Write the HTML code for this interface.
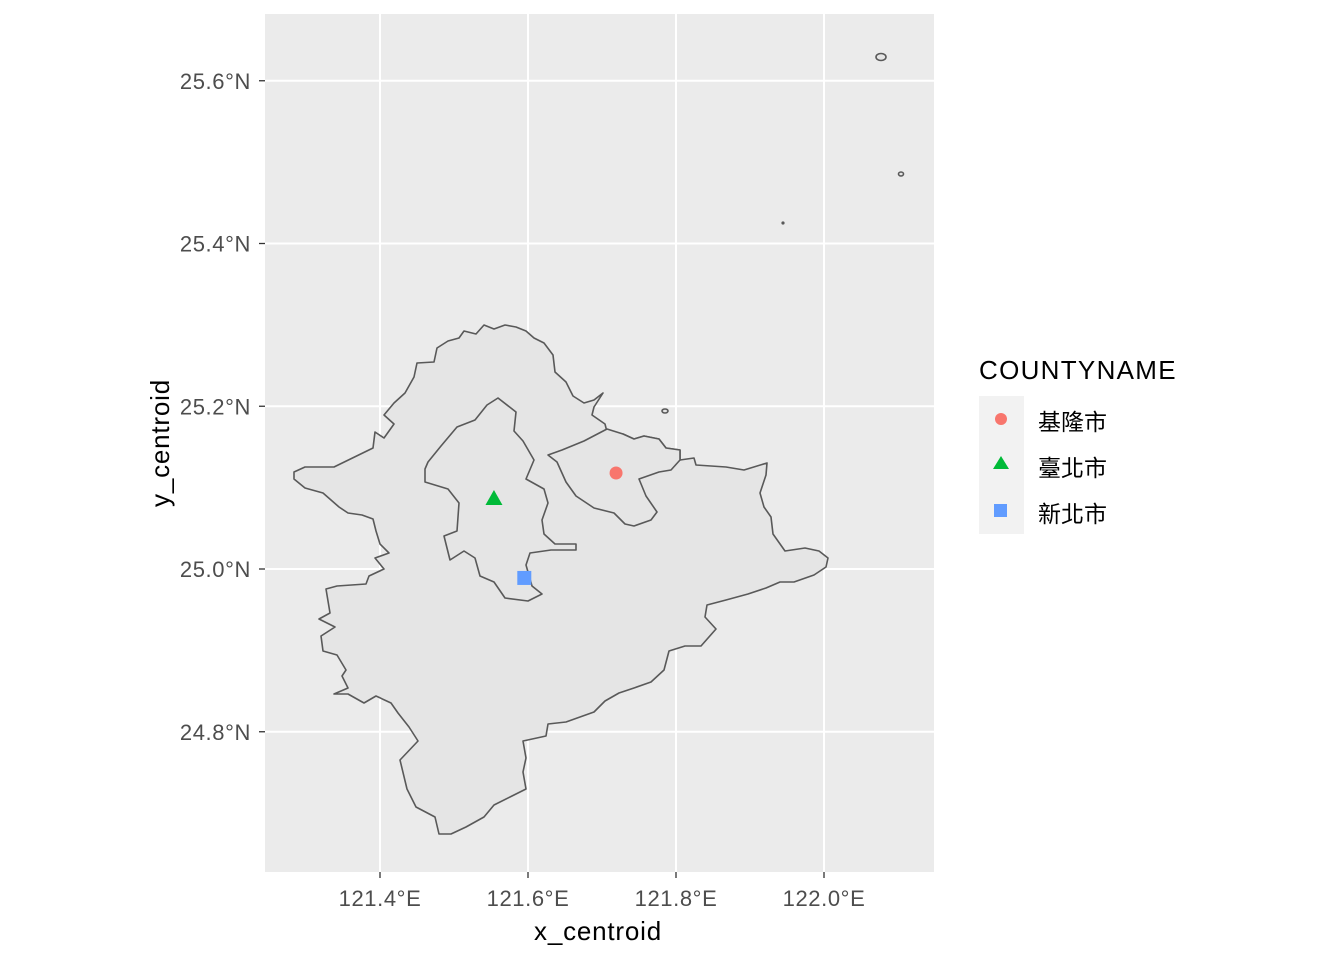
<!DOCTYPE html>
<html><head><meta charset="utf-8"><style>
body{margin:0;background:#fff;}
svg text{font-family:"Liberation Sans","Noto Sans CJK TC",sans-serif;}
</style></head><body>
<svg id="chart" width="1344" height="960" viewBox="0 0 1344 960" xmlns="http://www.w3.org/2000/svg">
<rect x="265" y="14" width="669" height="858" fill="#EBEBEB"/>
<g id="grid"></g>
<g fill="#E5E5E5" stroke="#595959" stroke-width="1.6" stroke-linejoin="round">
<path d="M294,472 L305,467 L334,467 L373,448 L375,432 L384,438 L394,424 L384,415 L394,403 L405,393 L414,377 L417,363 L434,362 L437,348 L448,341 L459,338 L464,331 L476,334 L484,325 L494,329 L505,325 L516,327 L526,331 L534,338 L544,343 L553,355 L555,372 L566,382 L573,396 L584,403 L594,400 L603,393 L594,407 L592,415 L605,424 L607,432 L623,434 L634,439 L644,436 L659,439 L666,448 L680,450 L680,460 L694,458 L696,465 L726,467 L744,470 L767,463 L766,475 L760,493 L764,507 L771,517 L773,534 L785,551 L805,548 L819,551 L828,558 L826,567 L814,575 L794,582 L780,582 L766,588 L748,594 L726,600 L707,605 L705,617 L716,629 L701,646 L685,646 L669,651 L664,670 L651,682 L634,688 L619,693 L605,701 L594,712 L566,722 L548,724 L546,736 L523,741 L526,758 L523,772 L526,789 L512,796 L494,805 L484,817 L466,827 L451,834 L439,834 L435,817 L416,807 L407,789 L400,760 L418,741 L409,727 L398,713 L391,703 L376,696 L364,703 L348,694 L334,694 L348,688 L342,676 L346,670 L337,655 L323,651 L321,636 L335,627 L319,619 L330,613 L326,589 L337,586 L366,584 L369,576 L384,569 L375,558 L389,553 L380,544 L376,531 L373,519 L362,515 L348,513 L339,507 L323,493 L305,488 L294,479 Z"/>
<path d="M498,398 L516,412 L514,431 L523,441 L534,460 L526,479 L544,489 L548,503 L542,520 L544,534 L555,544 L576,544 L576,550 L551,550 L530,553 L526,565 L532,586 L542,594 L528,601 L505,598 L494,582 L480,576 L475,558 L464,551 L450,560 L446,544 L444,536 L457,531 L459,503 L448,489 L425,482 L425,469 L428,462 L441,446 L457,427 L475,420 L487,405 Z"/>
<path d="M548,455 L562,450 L584,441 L607,429 L623,434 L634,439 L644,436 L659,439 L666,448 L680,450 L680,460 L671,470 L659,472 L639,479 L646,496 L657,512 L651,520 L634,526 L625,524 L614,513 L594,508 L576,496 L566,482 L557,462 Z"/>
<ellipse cx="881" cy="57" rx="5" ry="3.5"/>
<ellipse cx="901" cy="174" rx="2.5" ry="2"/>
<circle cx="783" cy="223" r="0.8"/>
<ellipse cx="665" cy="411" rx="3" ry="2"/>
</g>
<g id="points"></g>
<g id="axes"></g>
<text x="598" y="940" font-size="26" letter-spacing="0.8" text-anchor="middle" fill="#000">x_centroid</text>
<text x="0" y="0" font-size="26" letter-spacing="0.8" text-anchor="middle" fill="#000" transform="translate(169,443) rotate(-90)">y_centroid</text>
<g>
<text x="979" y="379" font-size="26" letter-spacing="1.3" fill="#000">COUNTYNAME</text>
<rect x="979" y="396" width="45" height="138" fill="#F2F2F2"/>
<circle cx="1001" cy="419" r="6" fill="#F8766D"/>
<polygon points="1001,456 1009,469 993,469" fill="#00BA38"/>
<rect x="994" y="504" width="13" height="13" fill="#619CFF"/>
<text x="1038" y="430" font-size="23" fill="#000">基隆市</text>
<text x="1038" y="476" font-size="23" fill="#000">臺北市</text>
<text x="1038" y="522" font-size="23" fill="#000">新北市</text>
</g>
</svg>
<script>
const xTicks=[121.4,121.6,121.8,122.0];
const xTickLabels=["121.4°E","121.6°E","121.8°E","122.0°E"];
const yTicks=[24.8,25.0,25.2,25.4,25.6];
const yTickLabels=["24.8°N","25.0°N","25.2°N","25.4°N","25.6°N"];
const counties=["基隆市","臺北市","新北市"];
const lons=[121.719,121.554,121.595];
const lats=[25.118,25.086,24.989];
const colors=["#F8766D","#00BA38","#619CFF"];
const shapes=["circle","triangle","square"];
const NS="http://www.w3.org/2000/svg";
function xs(v){return 380+(v-121.4)*740;}
function ys(v){return 569-(v-25.0)*813.75;}
function mk(t,a,p){const e=document.createElementNS(NS,t);for(const k in a)e.setAttribute(k,a[k]);p.appendChild(e);return e;}
const grid=document.getElementById('grid'),axes=document.getElementById('axes'),pts=document.getElementById('points');
xTicks.forEach((v,i)=>{
 const l=mk('line',{x1:xs(v),x2:xs(v),y1:14,y2:872,stroke:'#fff','stroke-width':2},grid);
 
 
 const t=mk('line',{x1:xs(v),x2:xs(v),y1:872,y2:878,stroke:'#333','stroke-width':1.3},axes);
 
 
 const tx=mk('text',{x:xs(v),y:906,'font-size':22,'letter-spacing':0.6,'text-anchor':'middle',fill:'#4D4D4D'},axes);
 tx.textContent=xTickLabels[i];
 
 
});
yTicks.forEach((v,i)=>{
 const l=mk('line',{x1:265,x2:934,y1:ys(v),y2:ys(v),stroke:'#fff','stroke-width':2},grid);
 
 
 const t=mk('line',{x1:259,x2:265,y1:ys(v),y2:ys(v),stroke:'#333','stroke-width':1.3},axes);
 
 
 const tx=mk('text',{x:251,y:ys(v)+8,'font-size':22,'letter-spacing':0.6,'text-anchor':'end',fill:'#4D4D4D'},axes);
 tx.textContent=yTickLabels[i];
 
 
});
counties.forEach((c,i)=>{
 const x=xs(lons[i]),y=ys(lats[i]);let e;
 if(shapes[i]==='circle')e=mk('circle',{cx:x,cy:y,r:6.5,fill:colors[i]},pts);
 else if(shapes[i]==='triangle')e=mk('polygon',{points:`${x},${y-9} ${x+8.5},${y+6} ${x-8.5},${y+6}`,fill:colors[i]},pts);
 else e=mk('rect',{x:x-7,y:y-7,width:14,height:14,fill:colors[i]},pts);
 
 
});
</script>
</body></html>
